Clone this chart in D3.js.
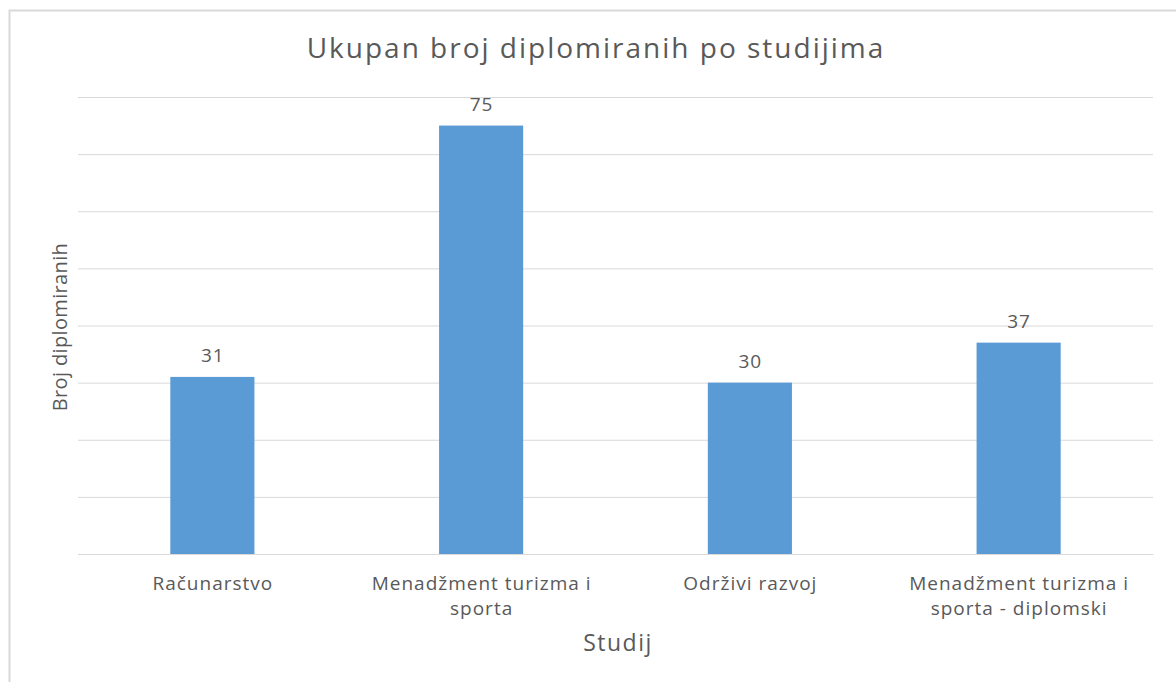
<!DOCTYPE html>
<html><head><meta charset="utf-8">
<script src="https://cdn.jsdelivr.net/npm/d3@7"></script>
<style>body{margin:0;background:#fff;} text{font-family:"Open Sans",sans-serif;}</style>
</head><body>
<svg id="c" width="1176" height="682"></svg>
<script>
const categories = [["Računarstvo"],["Menadžment turizma i","sporta"],["Održivi razvoj"],["Menadžment turizma i","sporta - diplomski"]];
const values = [31, 75, 30, 37];
const yTicks = [0,10,20,30,40,50,60,70,80];
const title = "Ukupan broj diplomiranih po studijima";
const xTitle = "Studij";
const yTitle = "Broj diplomiranih";

const svg = d3.select("#c");
const W=1176,H=682;
const m={l:78,r:23,t:97,b:128};
const iw=W-m.l-m.r, ih=H-m.t-m.b;
svg.append("path").attr("d",`M9.5,${H} V10.5 H${W}`).attr("fill","none").attr("stroke","#d9d9d9").attr("stroke-width",2);
const g=svg.append("g").attr("transform",`translate(${m.l},${m.t})`);
const x=d3.scaleBand().domain(d3.range(values.length)).range([0,iw]).paddingInner(0.687).paddingOuter(0.3435);
const y=d3.scaleLinear().domain([0,80]).range([ih,0]);
g.append("g").call(d3.axisLeft(y).tickValues(yTicks).tickSize(-iw).tickFormat(""))
 .call(a=>a.select(".domain").remove())
 .call(a=>a.selectAll("line").attr("stroke","#d9d9d9").attr("stroke-width",1));
g.selectAll("rect.bar").data(values).join("rect").attr("class","bar")
 .attr("x",(d,i)=>x(i)).attr("width",x.bandwidth())
 .attr("y",d=>y(d)).attr("height",d=>ih-y(d)).attr("fill","#5b9bd5");
g.selectAll("text.lbl").data(values).join("text").attr("class","lbl")
 .attr("x",(d,i)=>x(i)+x.bandwidth()/2+0.5).attr("y",d=>y(d)-14.5)
 .attr("text-anchor","middle").attr("font-size",19).attr("letter-spacing",1).attr("fill","#595959").text(d=>d);
const xa=g.append("g").attr("transform",`translate(0,${ih})`)
 .call(d3.axisBottom(x).tickSize(0).tickFormat(""));
xa.select(".domain").attr("stroke","#d9d9d9");
categories.forEach((lines,i)=>{
  const cx=x(i)+x.bandwidth()/2+0.5;
  const t=g.append("text").attr("x",cx).attr("y",ih+36)
    .attr("text-anchor","middle").attr("font-size",19).attr("letter-spacing",1).attr("fill","#595959");
  lines.forEach((l,j)=>t.append("tspan").attr("x",cx).attr("dy",j?25:0).text(l));
});
svg.append("text").attr("x",596).attr("y",58).attr("text-anchor","middle").attr("font-size",28).attr("letter-spacing",2).attr("fill","#595959").text(title);
svg.append("text").attr("x",618).attr("y",651).attr("text-anchor","middle").attr("font-size",23).attr("letter-spacing",1.5).attr("fill","#595959").text(xTitle);
svg.append("text").attr("transform","translate(67,327) rotate(-90)").attr("text-anchor","middle").attr("font-size",20).attr("letter-spacing",0.35).attr("fill","#595959").text(yTitle);
</script>
</body></html>
